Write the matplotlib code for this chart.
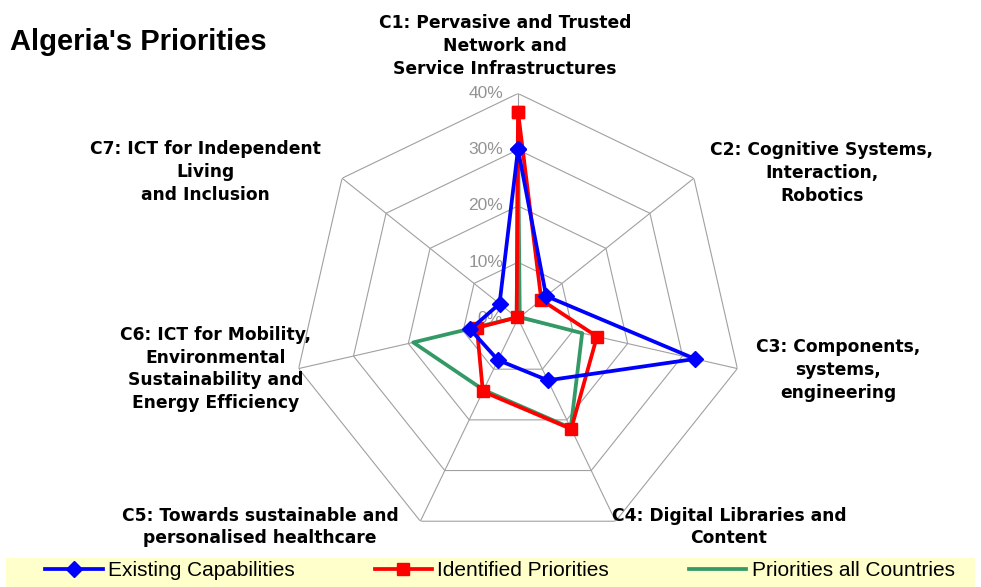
import numpy as np
import matplotlib
matplotlib.use('Agg')
import matplotlib.pyplot as plt
from matplotlib.patches import Rectangle

# values, in percent
categories = [
    'C1: Pervasive and Trusted\nNetwork and\nService Infrastructures',
    'C2: Cognitive Systems,\nInteraction,\nRobotics',
    'C3: Components,\nsystems,\nengineering',
    'C4: Digital Libraries and\nContent',
    'C5: Towards sustainable and\npersonalised healthcare',
    'C6: ICT for Mobility,\nEnvironmental\nSustainability and\nEnergy Efficiency',
    'C7: ICT for Independent\nLiving\nand Inclusion',
]
existing = [30.1, 6.4, 32.3, 12.2, 8.2, 8.7, 4.2]
identified = [36.8, 5.3, 14.4, 21.8, 14.4, 7.5, 0.3]
all_countries = [32.9, 0.4, 11.7, 21.6, 14.1, 19.1, 0.3]
rings = [0, 10, 20, 30, 40]
series_names = ['Existing Capabilities', 'Identified Priorities', 'Priorities all Countries']

W, H = 981, 587
fig = plt.figure(figsize=(W / 100, H / 100), dpi=100)

# radar centre at (518, 318.5) px, radius 225 px for 40%
cx, cy, R = 518, 318.5, 225
ax = fig.add_axes([(cx - R) / W, (H - cy - R) / H, 2 * R / W, 2 * R / H],
                  projection='polar')
ax.set_theta_zero_location('N')
ax.set_theta_direction(-1)
ax.set_ylim(0, 0.40)
ax.grid(False)
ax.spines['polar'].set_visible(False)
ax.set_xticks([])
ax.set_yticks([])
ax.patch.set_alpha(0)

n = len(categories)
angles = np.arange(n) * 2 * np.pi / n
closed = np.append(angles, angles[0])

# heptagon grid
for r in rings[1:]:
    ax.plot(closed, [r / 100] * (n + 1), color='#A0A0A0', lw=0.8, zorder=1)
for a in angles:
    ax.plot([a, a], [0, 0.40], color='#A0A0A0', lw=0.8, zorder=1)

for r in rings:
    ax.annotate(f'{r}%', xy=(0, r / 100), xytext=(-15, 0), textcoords='offset pixels',
                ha='right', va='center', color='#939393', fontsize=12.5,
                family='Liberation Sans', annotation_clip=False, zorder=2)

def closed_vals(vals):
    v = [x / 100 for x in vals]
    return v + v[:1]

l1, = ax.plot(closed, closed_vals(existing), color='#0000FF', lw=2.7, marker='D',
              markersize=8.5, zorder=5, clip_on=False, label=series_names[0])
l2, = ax.plot(closed, closed_vals(identified), color='#FF0000', lw=2.7, marker='s',
              markersize=8, zorder=4, clip_on=False, label=series_names[1])
l3, = ax.plot(closed, closed_vals(all_countries), color='#339966', lw=2.7,
              zorder=3, clip_on=False, label=series_names[2])

# category labels (centre of each text block, in pixels)
label_pos = [(505, 46), (822, 173), (838, 370), (729, 527),
             (260, 527), (216, 369), (205, 172)]
for txt, (x, y) in zip(categories, label_pos):
    fig.text(x / W, 1 - y / H, txt, ha='center', va='center', multialignment='center',
             fontsize=12.3, fontweight='bold', family='DejaVu Sans', linespacing=1.33)

fig.text(10 / W, 1 - 42 / H, "Algeria's Priorities", ha='left', va='center',
         fontsize=21, fontweight='bold', family='Liberation Sans')

# legend band
fig.patches.append(Rectangle((6 / W, 0), (975 - 6) / W, 29 / H, transform=fig.transFigure,
                             facecolor='#FFFFCC', edgecolor='none', zorder=0))
leg = fig.legend(handles=[l1, l2, l3], loc='center', bbox_to_anchor=(500 / W, 1 - 571 / H),
                 ncol=3, frameon=False, numpoints=1, handlelength=2.75, handletextpad=0.25,
                 columnspacing=3.85, prop={'family': 'Liberation Sans', 'size': 15},
                 borderpad=0, borderaxespad=0)

fig.savefig('out.png', dpi=100)
